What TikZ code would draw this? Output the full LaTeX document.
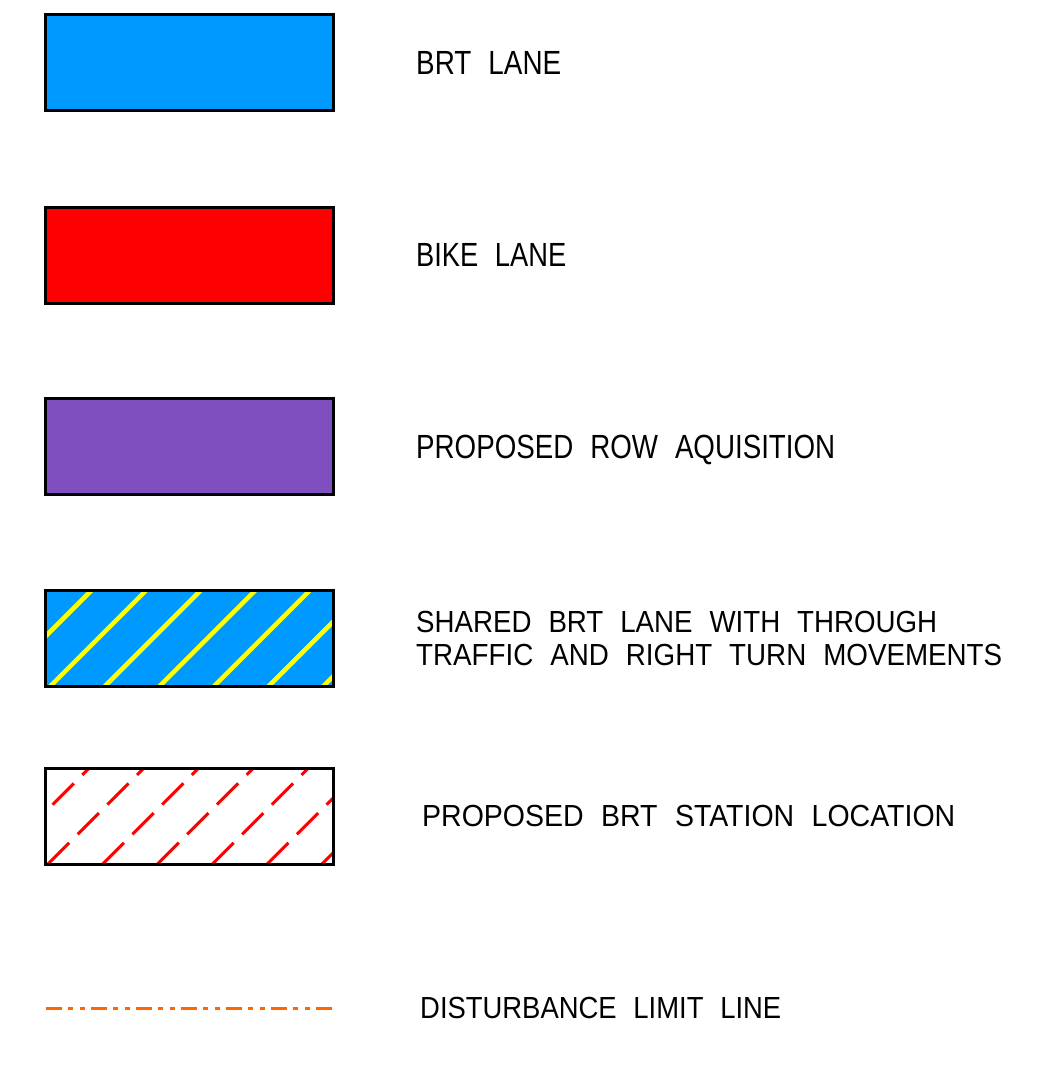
\documentclass[tikz,border=0pt]{standalone}
\usepackage{fontspec}
\setmainfont{Liberation Sans}[WordSpace=2.2]
\usetikzlibrary{positioning}
\definecolor{brtblue}{RGB}{0,153,255}
\definecolor{bikered}{RGB}{255,0,0}
\definecolor{rowpurple}{RGB}{127,79,191}
\definecolor{hatchyellow}{RGB}{255,255,0}
\definecolor{limitorange}{RGB}{255,102,0}
% stretch a label to the drawn width, height kept
\newcommand{\cadlabel}[2]{\resizebox{#1}{\height}{#2}}

\begin{document}
\begin{tikzpicture}[x=1pt, y=-1pt, node distance=81.5pt,
      legbox/.style={rectangle, draw=black, line width=3pt, minimum width=288pt,
                     minimum height=96pt, inner sep=0pt},
      legtext/.style={inner sep=0pt, text depth=0pt, font=\fontsize{33.5}{33.5}\selectfont},
      smalltext/.style={legtext, font=\fontsize{30.5}{30.5}\selectfont},
      yellowhatch/.style={path picture={
          \foreach \k in {-2,...,5}
            \draw[hatchyellow, line width=4.5pt]
              ([xshift=-5pt+\k*54.6pt, yshift=-10pt]path picture bounding box.south west) -- ++(117pt,117pt);}},
      reddash/.style={path picture={
          \foreach \k in {-2,...,5}
            \draw[bikered, line width=3pt, dash pattern=on 30pt off 12pt]
              ([xshift=3pt+\k*54.8pt]path picture bounding box.south west) -- ++(110pt,110pt);}},
      disturb/.style={limitorange, line width=3pt,
                      dash pattern=on 16pt off 6pt on 5pt off 7pt on 5pt off 6pt}]
    \useasboundingbox (0,0) rectangle (1038,1078);

    \node[legbox, fill=brtblue] (brt) at (189,63) {};
    \node[legbox, fill=bikered] (bike) at (189,255) {};
    \node[legbox, fill=rowpurple] (row) at (189,446.5) {};
    \node[legbox, fill=brtblue, yellowhatch] (shared) at (189,638.5) {};
    \node[legbox, reddash] (station) at (189,816) {};
    \coordinate (lim0) at (46,1008);
    \coordinate (lim1) at (333,1008);
    \draw[disturb] (lim0) -- (lim1);

    \node[legtext, right=of brt] (brtlbl) {\cadlabel{145pt}{BRT LANE}};
    \node[legtext, right=of bike] (bikelbl) {\cadlabel{150pt}{BIKE LANE}};
    \node[legtext, right=of row] (rowlbl) {\cadlabel{419pt}{PROPOSED ROW AQUISITION}};
    \node[smalltext, right=of shared, anchor=south west, yshift=5.5pt] (sharedlbl)
      {\cadlabel{521pt}{SHARED BRT LANE WITH THROUGH}};
    \node[smalltext, below=11pt of sharedlbl.south west, anchor=north west] (sharedlbl2)
      {\cadlabel{586pt}{TRAFFIC AND RIGHT TURN MOVEMENTS}};
    \node[smalltext, right=87.5pt of station] (stationlbl)
      {\cadlabel{533pt}{PROPOSED BRT STATION LOCATION}};
    \node[smalltext, right=87pt of lim1] (limlbl) {\cadlabel{361pt}{DISTURBANCE LIMIT LINE}};
\end{tikzpicture}
\end{document}
